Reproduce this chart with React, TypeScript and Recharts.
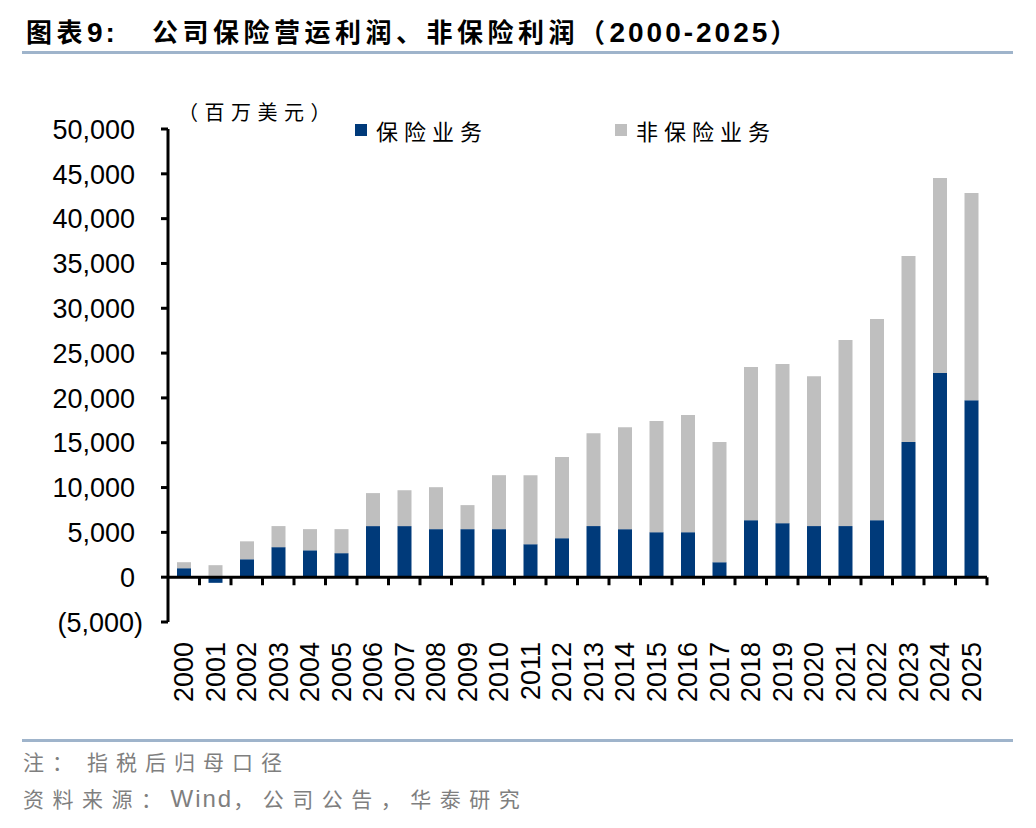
import { Bar, BarChart, ReferenceLine, XAxis, YAxis } from 'recharts';

const years = [
  '2000', '2001', '2002', '2003', '2004', '2005', '2006', '2007', '2008', '2009',
  '2010', '2011', '2012', '2013', '2014', '2015', '2016', '2017', '2018', '2019',
  '2020', '2021', '2022', '2023', '2024', '2025',
];

// 保险业务 (百万美元)
const insurance = [
  1000, -630, 2000, 3350, 3000, 2680, 5700, 5700, 5360, 5360,
  5360, 3680, 4350, 5700, 5360, 5020, 5020, 1670, 6360, 6030,
  5700, 5700, 6360, 15070, 22770, 19750,
];

// 非保险业务 (百万美元)
const nonInsurance = [
  670, 1340, 2000, 2350, 2360, 2680, 3680, 4000, 4680, 2680,
  6020, 7700, 9050, 10370, 11380, 12390, 13060, 13400, 17080, 17740,
  16730, 20750, 22440, 20760, 21760, 23110,
];

const yTicks = [-5000, 0, 5000, 10000, 15000, 20000, 25000, 30000, 35000, 40000, 45000, 50000];

const SERIES = [
  { key: 'insurance', name: '保险业务', color: '#003A7A' },
  { key: 'nonInsurance', name: '非保险业务', color: '#BFBFBF' },
];

const data = years.map((year, i) => ({
  year,
  insurance: insurance[i],
  nonInsurance: nonInsurance[i],
}));

const NUM_FONT = '"Liberation Sans", Arial, sans-serif';
const CJK_FONT = '"Noto Sans CJK SC", "Liberation Sans", sans-serif';

const fmt = (v: number) =>
  v < 0 ? `(${Math.abs(v).toLocaleString('en-US')})` : v.toLocaleString('en-US');

function YTick({ x, y, payload }: any) {
  const v = payload.value as number;
  return (
    <text
      x={v < 0 ? x - 18 : x - 26}
      y={y}
      dy="0.36em"
      textAnchor="end"
      fontSize={27}
      fontFamily={NUM_FONT}
      fill="#000"
    >
      {fmt(v)}
    </text>
  );
}

function XTick({ x, y, payload }: any) {
  return (
    <g transform={`translate(${x},${y}) rotate(-90)`}>
      <text x={0} y={0} dy="0.36em" textAnchor="end" fontSize={27} fontFamily={NUM_FONT} fill="#000">
        {payload.value}
      </text>
    </g>
  );
}

// zero line with tick marks between categories
function ZeroAxis(props: any) {
  const { x1, x2, y1 } = props;
  const step = (x2 - x1) / years.length;
  let d = `M${x1},${y1}H${x2}`;
  for (let k = 1; k <= years.length; k++) {
    const tx = x1 + k * step;
    d += `M${tx},${y1}V${y1 + 8}`;
  }
  return <path d={d} stroke="#000" strokeWidth={3} fill="none" />;
}

const latin = { fontFamily: NUM_FONT, fontSize: 28, letterSpacing: 3 };

export default function App() {
  return (
    <div
      style={{
        position: 'absolute',
        left: 0,
        top: 0,
        width: 1036,
        height: 828,
        background: '#fff',
        fontFamily: NUM_FONT,
        overflow: 'hidden',
      }}
    >
      {/* title */}
      <div
        style={{
          position: 'absolute',
          left: 26,
          top: 14,
          fontSize: 26,
          lineHeight: '34px',
          fontWeight: 700,
          fontFamily: CJK_FONT,
          letterSpacing: 4.5,
          whiteSpace: 'nowrap',
          color: '#000',
        }}
      >
        图表<span style={latin}>9:</span>
        <span style={{ marginLeft: 34 }}>
          公司保险营运利润、非保险利润（<span style={latin}>2000-2025</span>）
        </span>
      </div>
      <div style={{ position: 'absolute', left: 22, top: 51, width: 991, height: 3, background: '#9FB4CB' }} />

      {/* unit */}
      <div
        style={{
          position: 'absolute',
          left: 178,
          top: 98,
          fontSize: 20,
          lineHeight: '28px',
          fontFamily: CJK_FONT,
          letterSpacing: 6.5,
          whiteSpace: 'nowrap',
          color: '#000',
        }}
      >
        （百万美元）
      </div>

      {/* legend */}
      {SERIES.map((s, i) => (
        <div
          key={s.key}
          style={{
            position: 'absolute',
            left: i === 0 ? 355 : 615,
            top: 116,
            display: 'flex',
            alignItems: 'center',
            whiteSpace: 'nowrap',
          }}
        >
          <span style={{ width: 12, height: 12, background: s.color, display: 'inline-block', marginRight: 9 }} />
          <span style={{ fontSize: 22, lineHeight: '28px', fontFamily: CJK_FONT, letterSpacing: 6, color: '#000' }}>
            {s.name}
          </span>
        </div>
      ))}

      <div style={{ position: 'absolute', left: 0, top: 0 }}>
        <BarChart
          width={1036}
          height={720}
          data={data}
          stackOffset="sign"
          margin={{ top: 129, right: 49, left: 0, bottom: 0 }}
        >
          <XAxis
            dataKey="year"
            interval={0}
            axisLine={false}
            tickLine={false}
            tickSize={0}
            tickMargin={20}
            height={98}
            tick={<XTick />}
          />
          <YAxis
            width={168}
            domain={[-5000, 50000]}
            ticks={yTicks}
            interval={0}
            tickSize={7}
            tickMargin={0}
            axisLine={{ stroke: '#000', strokeWidth: 3 }}
            tickLine={{ stroke: '#000', strokeWidth: 3 }}
            tick={<YTick />}
          />
          {SERIES.map((s) => (
            <Bar
              key={s.key}
              dataKey={s.key}
              name={s.name}
              stackId="a"
              fill={s.color}
              barSize={14}
              isAnimationActive={false}
            />
          ))}
          <ReferenceLine y={0} shape={ZeroAxis} />
        </BarChart>
      </div>

      <div style={{ position: 'absolute', left: 22, top: 739, width: 991, height: 3, background: '#9FB4CB' }} />

      {/* notes */}
      <div
        style={{
          position: 'absolute',
          left: 23,
          top: 746,
          fontSize: 21,
          lineHeight: '30px',
          fontFamily: CJK_FONT,
          letterSpacing: 8,
          whiteSpace: 'nowrap',
          color: '#7F7F7F',
        }}
      >
        注：<span style={{ marginLeft: 6 }}>指税后归母口径</span>
      </div>
      <div
        style={{
          position: 'absolute',
          left: 23,
          top: 783,
          fontSize: 21,
          lineHeight: '30px',
          fontFamily: CJK_FONT,
          letterSpacing: 8.5,
          whiteSpace: 'nowrap',
          color: '#7F7F7F',
        }}
      >
        资料来源：<span style={{ fontFamily: NUM_FONT, fontSize: 24, letterSpacing: 2 }}>Wind</span>，公司公告，华泰研究
      </div>
    </div>
  );
}
